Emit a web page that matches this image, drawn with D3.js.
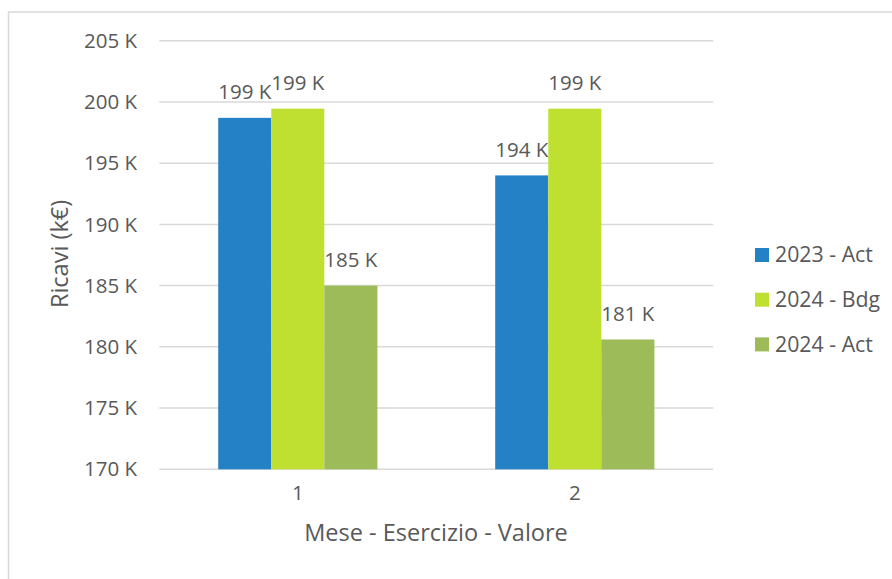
<!DOCTYPE html>
<html>
<head>
<meta charset="utf-8">
<script src="https://cdn.jsdelivr.net/npm/d3@7"></script>
<style>
  body { margin: 0; background: #fff; }
  svg { display: block; font-family: "Open Sans", sans-serif; }
</style>
</head>
<body>
<svg width="892" height="579"></svg>
<script>
// data (values in k€)
var months = ['1', '2'];
var seriesNames = ['2023 - Act', '2024 - Bdg', '2024 - Act'];
var act2023 = [198.7, 194.0];
var bdg2024 = [199.45, 199.45];
var act2024 = [185.0, 180.6];
var yTicks = [170, 175, 180, 185, 190, 195, 200, 205];
var colors = ['#2581c5', '#c0e031', '#9dbb59'];

var seriesValues = [act2023, bdg2024, act2024];

var svg = d3.select('svg');
var textColor = '#595959';

// chart border
svg.append('rect')
  .attr('x', 8.5).attr('y', 12)
  .attr('width', 900).attr('height', 600)
  .attr('fill', 'none')
  .attr('stroke', '#d9d9d9')
  .attr('stroke-width', 1.5);

var plotLeft = 159.3, plotRight = 713.3, plotTop = 40.7, plotBottom = 469.3;

var y = d3.scaleLinear()
  .domain([170, 205])
  .range([plotBottom, plotTop]);

var x0 = d3.scaleBand()
  .domain(months)
  .range([plotLeft, plotRight]);

var x1 = d3.scaleBand()
  .domain(seriesNames)
  .range([0, x0.bandwidth()])
  .paddingOuter(1.11);

// gridlines
svg.append('g')
  .selectAll('line')
  .data(yTicks)
  .enter()
  .append('line')
    .attr('x1', plotLeft)
    .attr('x2', plotRight)
    .attr('y1', d => y(d))
    .attr('y2', d => y(d))
    .attr('stroke', '#d9d9d9')
    .attr('stroke-width', 1.5);

// y tick labels
svg.append('g')
  .selectAll('text')
  .data(yTicks)
  .enter()
  .append('text')
    .attr('x', 137)
    .attr('y', d => y(d))
    .attr('dy', '0.35em')
    .attr('text-anchor', 'end')
    .attr('font-size', 20.5)
    .attr('fill', textColor)
    .text(d => d + ' K');

// bars
var groups = svg.append('g')
  .selectAll('g')
  .data(seriesNames)
  .enter()
  .append('g')
    .attr('fill', (d, i) => colors[i]);

groups.selectAll('rect')
  .data((s, i) => months.map((m, j) => ({ month: m, series: s, value: seriesValues[i][j] })))
  .enter()
  .append('rect')
    .attr('x', d => x0(d.month) + x1(d.series))
    .attr('width', x1.bandwidth())
    .attr('y', d => y(d.value))
    .attr('height', d => y(170) - y(d.value));

// data labels
groups.selectAll('text')
  .data((s, i) => months.map((m, j) => ({ month: m, series: s, value: seriesValues[i][j] })))
  .enter()
  .append('text')
    .attr('x', d => x0(d.month) + x1(d.series) + x1.bandwidth() / 2)
    .attr('y', d => y(d.value) - 26)
    .attr('dy', '0.35em')
    .attr('text-anchor', 'middle')
    .attr('font-size', 20.5)
    .attr('fill', textColor)
    .text(d => Math.round(d.value) + ' K');

// x tick labels
svg.append('g')
  .selectAll('text')
  .data(months)
  .enter()
  .append('text')
    .attr('x', d => x0(d) + x0.bandwidth() / 2)
    .attr('y', 500)
    .attr('text-anchor', 'middle')
    .attr('font-size', 20.5)
    .attr('fill', textColor)
    .text(d => d);

// axis titles
svg.append('text')
  .attr('x', 436)
  .attr('y', 541)
  .attr('text-anchor', 'middle')
  .attr('font-size', 23.5)
  .attr('fill', textColor)
  .text('Mese - Esercizio - Valore');

svg.append('text')
  .attr('transform', 'translate(68,254) rotate(-90)')
  .attr('text-anchor', 'middle')
  .attr('font-size', 23.5)
  .attr('fill', textColor)
  .text('Ricavi (k€)');

// legend
var legend = svg.append('g')
  .selectAll('g')
  .data(seriesNames)
  .enter()
  .append('g')
    .attr('transform', (d, i) => 'translate(755,' + (255 + i * 44.7) + ')');

legend.append('rect')
  .attr('x', 0).attr('y', -7)
  .attr('width', 14).attr('height', 14)
  .attr('fill', (d, i) => colors[i]);

legend.append('text')
  .attr('x', 20)
  .attr('y', 0)
  .attr('dy', '0.35em')
  .attr('font-size', 21.3)
  .attr('fill', textColor)
  .text(d => d);
</script>
</body>
</html>
